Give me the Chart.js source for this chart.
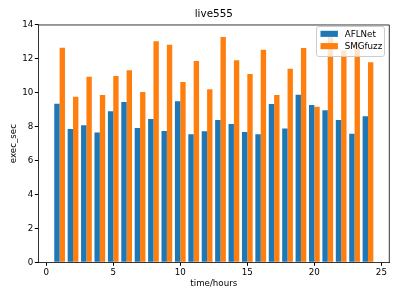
<!DOCTYPE html>
<html>
<head>
<meta charset="utf-8">
<script src="https://cdn.jsdelivr.net/npm/chart.js@4/dist/chart.umd.min.js"></script>
<style>
  html, body { margin: 0; padding: 0; background: #fff; }
</style>
</head>
<body>
<canvas id="live555Chart" width="399" height="299"></canvas>
<script>
// values
const hours = [1, 2, 3, 4, 5, 6, 7, 8, 9, 10, 11, 12, 13, 14, 15, 16, 17, 18, 19, 20, 21, 22, 23, 24];
const aflnet = [9.36, 7.86, 8.08, 7.65, 8.91, 9.46, 7.92, 8.45, 7.75, 9.50, 7.55, 7.73,
                8.40, 8.16, 7.69, 7.55, 9.34, 7.90, 9.89, 9.28, 8.97, 8.40, 7.59, 8.61];
const smgfuzz = [12.66, 9.77, 10.95, 9.87, 10.99, 11.33, 10.05, 13.04, 12.84, 10.64, 11.88, 10.21,
                 13.29, 11.92, 11.11, 12.54, 9.87, 11.42, 12.64, 9.18, 13.30, 12.50, 13.00, 11.80];
const xTicks = [0, 5, 10, 15, 20, 25];
const yTicks = [0, 2, 4, 6, 8, 10, 12, 14];

const FONT = 'DejaVu Sans';

// top + right spines like matplotlib
const framePlugin = {
    id: 'frame',
    afterDatasetsDraw(chart) {
        const { ctx, chartArea: a } = chart;
        ctx.save();
        ctx.strokeStyle = '#000';
        ctx.lineWidth = 0.8;
        ctx.beginPath();
        ctx.moveTo(a.left, a.top);
        ctx.lineTo(a.right, a.top);
        ctx.lineTo(a.right, a.bottom);
        ctx.stroke();
        ctx.restore();
    }
};

// legend inside the axes, upper right
const innerLegend = {
    id: 'innerLegend',
    afterDatasetsDraw(chart) {
        const { ctx, chartArea: a } = chart;
        const w = 68, h = 30;
        const x = a.right - 4.8 - w, y = a.top + 1.5;
        ctx.save();
        ctx.fillStyle = 'rgba(255,255,255,0.8)';
        ctx.strokeStyle = '#cccccc';
        ctx.lineWidth = 1;
        ctx.beginPath();
        ctx.roundRect(x, y, w, h, 2.5);
        ctx.fill();
        ctx.stroke();
        ctx.font = '8.7px "' + FONT + '"';
        ctx.textBaseline = 'middle';
        chart.data.datasets.forEach((ds, i) => {
            const cy = y + 7.3 + i * 12.3;
            ctx.fillStyle = ds.backgroundColor;
            ctx.fillRect(x + 4, cy - 3, 17.4, 6.1);
            ctx.fillStyle = '#000';
            ctx.fillText(ds.label, x + 28.3, cy + 0.5);
        });
        ctx.restore();
    }
};

const ctx = document.getElementById('live555Chart').getContext('2d');

const live555Chart = new Chart(ctx, {
    type: 'bar',
    data: {
        datasets: [{
            label: 'AFLNet',
            data: hours.map((h, i) => ({ x: h, y: aflnet[i] })),
            backgroundColor: '#1f77b4',
            borderWidth: 0
        }, {
            label: 'SMGfuzz',
            data: hours.map((h, i) => ({ x: h, y: smgfuzz[i] })),
            backgroundColor: '#ff7f0e',
            borderWidth: 0
        }]
    },
    options: {
        responsive: false,
        animation: false,
        categoryPercentage: 0.8,
        barPercentage: 1.0,
        layout: { padding: { left: 0, right: 9.7, top: 0, bottom: 0 } },
        plugins: {
            legend: { display: false },
            tooltip: { enabled: false },
            title: {
                display: true,
                text: 'live555',
                fullSize: false,
                color: '#000',
                font: { family: FONT, size: 10.4, weight: 'normal' },
                padding: { top: 8, bottom: 4.5 }
            }
        },
        scales: {
            x: {
                type: 'linear',
                min: -0.59,
                max: 25.59,
                offset: false,
                afterBuildTicks: s => { s.ticks = xTicks.map(v => ({ value: v })); },
                afterFit: s => { s.height = 36.7; },
                grid: { display: true, offset: false, drawOnChartArea: false, drawTicks: true, tickLength: 3.5, color: '#000' },
                border: { display: true, color: '#000', width: 0.8 },
                ticks: { color: '#000', padding: 2, maxRotation: 0, font: { family: FONT, size: 8.7 } },
                title: {
                    display: true,
                    text: 'time/hours',
                    color: '#000',
                    font: { family: FONT, size: 8.7 },
                    padding: { top: 0, bottom: 10.3 }
                }
            },
            y: {
                min: 0,
                max: 14,
                afterBuildTicks: s => { s.ticks = yTicks.map(v => ({ value: v })); },
                afterFit: s => { s.width = 38.3; },
                grid: { display: true, drawOnChartArea: false, drawTicks: true, tickLength: 3.5, color: '#000' },
                border: { display: true, color: '#000', width: 0.8 },
                ticks: { color: '#000', padding: 1.5, font: { family: FONT, size: 8.7 } },
                title: {
                    display: true,
                    text: 'exec_sec',
                    color: '#000',
                    font: { family: FONT, size: 8.7 },
                    padding: { top: 8.1, bottom: 0 }
                }
            }
        }
    },
    plugins: [framePlugin, innerLegend]
});
</script>
</body>
</html>
